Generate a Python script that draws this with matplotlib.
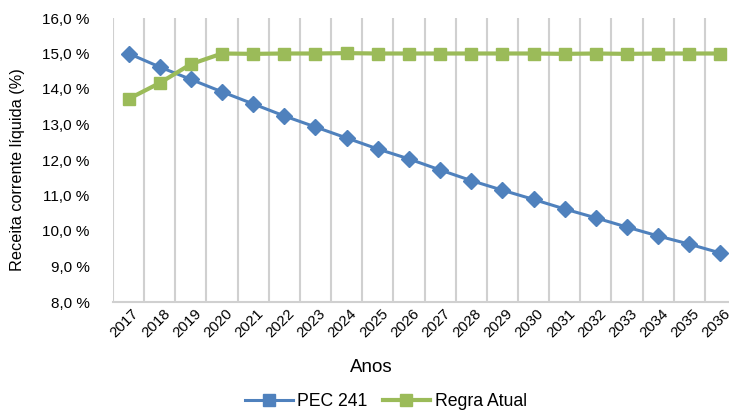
import matplotlib.pyplot as plt
from matplotlib.ticker import FuncFormatter, MultipleLocator
from matplotlib.lines import Line2D
from matplotlib.transforms import ScaledTranslation

plt.rcParams['font.family'] = ['Liberation Sans', 'DejaVu Sans']

anos = [str(a) for a in range(2017, 2037)]
pec_241 = [15.0, 14.62, 14.27, 13.92, 13.58, 13.24, 12.93, 12.62, 12.31, 12.03,
           11.72, 11.42, 11.15, 10.89, 10.62, 10.37, 10.11, 9.86, 9.63, 9.38]
regra_atual = [13.72, 14.17, 14.70, 15.0, 14.99, 15.0, 15.0, 15.01, 15.0, 15.0,
               15.0, 15.0, 15.0, 15.0, 14.99, 15.0, 14.99, 15.0, 15.0, 15.0]

blue = '#4F81BD'
green = '#9BBB59'
grid = '#D0D0D0'

fig = plt.figure(figsize=(7.29, 4.12), dpi=100)
ax = fig.add_axes([113 / 729, 1 - 302 / 412, 623 / 729, 284 / 412])

x = list(range(len(anos)))
ax.plot(x, pec_241, color=blue, linewidth=2.2, marker='D', markersize=8.5,
        markeredgecolor=blue, label='PEC 241', zorder=3)
ax.plot(x, regra_atual, color=green, linewidth=3, marker='s', markersize=9,
        markeredgecolor=green, label='Regra Atual', zorder=4)

ax.set_xlim(-0.5, len(anos) - 0.5)
ax.set_ylim(8, 16)
ax.yaxis.set_major_locator(MultipleLocator(1))
ax.yaxis.set_major_formatter(FuncFormatter(lambda v, p: f'{v:.1f} %'.replace('.', ',')))

# vertical gridlines between categories
for b in range(len(anos) + 1):
    ax.axvline(b - 0.5, color=grid, linewidth=1.5, zorder=1)

ax.set_xticks(x)
ax.set_xticklabels(anos, rotation=45, ha='right', rotation_mode='anchor')
ax.tick_params(axis='both', length=0, colors='#000000')
ax.tick_params(axis='x', pad=3, labelsize=10.8)
ax.tick_params(axis='y', pad=17, labelsize=11)
shift = ScaledTranslation(3 / 100, 0, fig.dpi_scale_trans)
for lbl in ax.get_xticklabels():
    lbl.set_transform(lbl.get_transform() + shift)

for s in ['top', 'right', 'left']:
    ax.spines[s].set_visible(False)
ax.spines['bottom'].set_color(grid)
ax.spines['bottom'].set_linewidth(1.5)

fig.text(371 / 729, 1 - 367 / 412, 'Anos', fontsize=13.5, ha='center', va='center')
fig.text(18 / 729, 1 - 170 / 412, 'Receita corrente líquida (%)', rotation=90,
         fontsize=11.7, ha='center', va='center')

handles = [Line2D([], [], color=blue, linewidth=2.2, marker='s', markersize=8),
           Line2D([], [], color=green, linewidth=3, marker='s', markersize=8)]
fig.legend(handles, ['PEC 241', 'Regra Atual'], loc='center',
           bbox_to_anchor=(386 / 729, 1 - 402 / 412), ncol=2, frameon=False,
           fontsize=12.7, handlelength=2.7, columnspacing=0.85, handletextpad=0.25)

fig.savefig('out.png', dpi=100)
